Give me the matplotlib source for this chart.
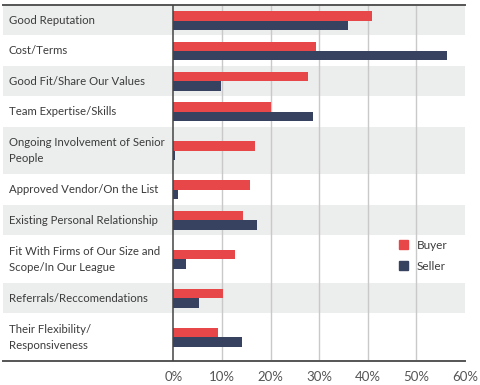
import numpy as np
import matplotlib
matplotlib.use("Agg")
import matplotlib.pyplot as plt
from matplotlib.patches import Patch

# data
categories = [
    "Good Reputation",
    "Cost/Terms",
    "Good Fit/Share Our Values",
    "Team Expertise/Skills",
    "Ongoing Involvement of Senior\nPeople",
    "Approved Vendor/On the List",
    "Existing Personal Relationship",
    "Fit With Firms of Our Size and\nScope/In Our League",
    "Referrals/Reccomendations",
    "Their Flexibility/\nResponsiveness",
]
buyer = [40.9, 29.4, 27.6, 20.1, 16.8, 15.8, 14.3, 12.6, 10.3, 9.1]
seller = [35.9, 56.2, 9.9, 28.8, 0.4, 1.0, 17.3, 2.7, 5.2, 14.1]
xticks = [0, 10, 20, 30, 40, 50, 60]

RED = "#e8474a"
NAVY = "#36425f"
BAND = "#eceded"
TXT = "#3c3c3c"

plt.rcParams["font.family"] = ["Lato", "DejaVu Sans"]

# row heights depend on number of label lines
lines = np.array([c.count("\n") + 1 for c in categories])
heights = np.where(lines > 1, 47.6, 30.4)
edges = np.concatenate([[0], np.cumsum(heights)])
centers = (edges[:-1] + edges[1:]) / 2

fig = plt.figure(figsize=(4.8, 3.85), dpi=100)
W, H = 480, 385
ax = fig.add_axes([3 / W, 1 - 361 / H, 462 / W, 356 / H])

xmin = -(173.3 - 3) / 4.86
ax.set_xlim(xmin, 60)
ax.set_ylim(edges[-1], 0)

for i in range(len(categories)):
    if i % 2 == 0:
        ax.axhspan(edges[i], edges[i + 1], color=BAND, lw=0, zorder=0)
    ax.text(xmin + 1.2, centers[i], categories[i], va="center", ha="left",
            fontsize=8.2, color=TXT, linespacing=1.55)

ax.vlines(xticks[1:-1], 0, edges[-1], color="#c9c9c9", lw=1, zorder=1)

bh = 9.4
ax.barh(centers - bh / 2 + 0.3, buyer, height=bh, color=RED, zorder=2, label="Buyer")
ax.barh(centers + bh / 2 + 0.3, seller, height=bh, color=NAVY, zorder=2, label="Seller")
ax.axvline(0, color="#444444", lw=1.1, zorder=3)

for s in ["left", "right"]:
    ax.spines[s].set_visible(False)
for s in ["top", "bottom"]:
    ax.spines[s].set_color("#555555")
    ax.spines[s].set_linewidth(1.4)

ax.set_yticks([])
ax.set_xticks(xticks)
ax.set_xticklabels([f"{t}%" for t in xticks])
ax.tick_params(axis="x", length=0, pad=7, labelsize=9.5, labelcolor="#555555")

handles = [Patch(color=RED, label="Buyer"), Patch(color=NAVY, label="Seller")]
leg = ax.legend(handles=handles, loc="upper left", bbox_to_anchor=(399 / W, 1 - 240 / H),
                bbox_transform=fig.transFigure, frameon=False, fontsize=8.5,
                handlelength=0.8, handleheight=0.8, handletextpad=0.7,
                labelspacing=0.85, borderpad=0, borderaxespad=0)
for t in leg.get_texts():
    t.set_color(TXT)

fig.savefig("out.png", dpi=100)
